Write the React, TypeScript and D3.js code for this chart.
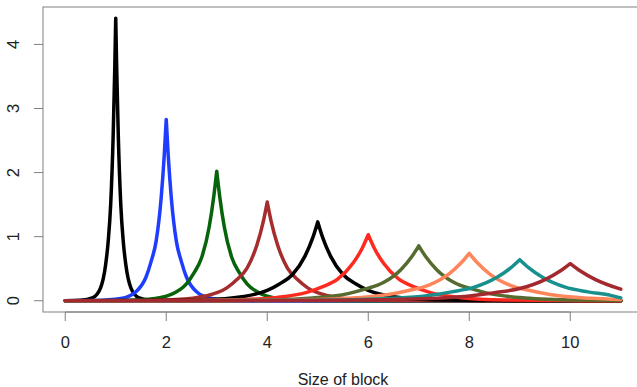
import React from "react";
import * as d3 from "d3";

// Peak positions (x) of each curve
const peakX = [1, 2, 3, 4, 5, 6, 7, 8, 9, 10];
// Relative offsets from the peak, as a fraction of the peak position
const offsets = [0, 0.02, 0.05, 0.1, 0.15, 0.2, 0.3, 0.45, 0.7, 1.0];
// Heights read at those offsets (same on both sides of the peak)
const curve1 = [4.41, 3.6, 2.6, 1.5, 0.92, 0.56, 0.2, 0.05, 0.006, 0];
const curve2 = [2.83, 2.26, 1.61, 0.93, 0.61, 0.37, 0.14, 0.034, 0.004, 0];
const curve3 = [2.02, 1.62, 1.15, 0.67, 0.434, 0.263, 0.1, 0.024, 0.003, 0];
const curve4 = [1.54, 1.23, 0.88, 0.51, 0.33, 0.2, 0.077, 0.018, 0.0023, 0];
const curve5 = [1.23, 0.98, 0.7, 0.41, 0.264, 0.16, 0.062, 0.015, 0.0018, 0];
const curve6 = [1.03, 0.82, 0.587, 0.34, 0.22, 0.134, 0.052, 0.012, 0.0015, 0];
const curve7 = [0.857, 0.686, 0.488, 0.283, 0.184, 0.111, 0.043, 0.01, 0.0013, 0];
const curve8 = [0.74, 0.592, 0.42, 0.244, 0.159, 0.096, 0.037, 0.009, 0.0011, 0];
const curve9 = [0.64, 0.512, 0.365, 0.211, 0.138, 0.083, 0.032, 0.0077, 0.001, 0];
const curve10 = [0.58, 0.464, 0.33, 0.19, 0.125, 0.075, 0.029, 0.007, 0.0009, 0];
const curves = [curve1, curve2, curve3, curve4, curve5, curve6, curve7, curve8, curve9, curve10];
// Height of each curve at the right end of the range (x = 11)
const rightEnd = [0, 0, 0, 0, 0, 0.001, 0.004, 0.018, 0.045, 0.18];
const xMax = 11;

const colors = [
  "#000000",
  "#1f3dff",
  "#07640a",
  "#a52d2d",
  "#000000",
  "#ff2a1f",
  "#556b2f",
  "#ff855a",
  "#17908e",
  "#a3292f",
];

const xTicks = [0, 2, 4, 6, 8, 10];
const yTicks = [0, 1, 2, 3, 4];
const xLabel = "Size of block";

const W = 637;
const H = 387;
const left = 43;
const right = 643;
const top = 7;
const bottom = 312;

export default function App() {
  const x = d3.scaleLinear().domain([-0.44, 11.44]).range([left, right]);
  const y = d3.scaleLinear().domain([-0.176, 4.584]).range([bottom, top]);
  const line = d3
    .line<[number, number]>()
    .x((d) => x(d[0]))
    .y((d) => y(d[1]))
    .curve(d3.curveMonotoneX);

  const paths = curves.map((vals, i) => {
    const k = peakX[i];
    const leftPts: [number, number][] = offsets
      .map((u, j) => [k - u * k, vals[j]] as [number, number])
      .reverse();
    const rightPts: [number, number][] = offsets
      .map((u, j) => [k + u * k, vals[j]] as [number, number])
      .filter((p) => p[0] < xMax - 1e-9);
    rightPts.push([xMax, rightEnd[i]]);
    const a = line(leftPts) || "";
    const b = (line(rightPts) || "").replace(/^M/, "L");
    return a + b;
  });

  const font = "'Liberation Sans', Arial, Helvetica, sans-serif";

  return (
    <svg
      width={W}
      height={H}
      style={{ position: "absolute", left: 0, top: 0, background: "#fff" }}
    >
      <defs>
        <clipPath id="plotclip">
          <rect x={left} y={top} width={right - left} height={bottom - top} />
        </clipPath>
      </defs>
      <g clipPath="url(#plotclip)">
        {paths.map((p, i) => (
          <path
            key={i}
            d={p}
            fill="none"
            stroke={colors[i]}
            strokeWidth={3.5}
            strokeLinejoin="round"
            strokeLinecap="round"
          />
        ))}
      </g>
      <rect
        x={left}
        y={top}
        width={right - left}
        height={bottom - top}
        fill="none"
        stroke="#808080"
        strokeWidth={1}
      />
      {/* x axis */}
      <line x1={x(0)} x2={x(10)} y1={bottom} y2={bottom} stroke="#808080" />
      {xTicks.map((t) => (
        <g key={t}>
          <line x1={x(t)} x2={x(t)} y1={bottom} y2={bottom + 9} stroke="#808080" />
          <text
            x={x(t)}
            y={348}
            textAnchor="middle"
            fontFamily={font}
            fontSize={16.5}
            fill="#222"
          >
            {t}
          </text>
        </g>
      ))}
      {/* y axis */}
      {yTicks.map((t) => (
        <g key={t}>
          <line x1={left} x2={left - 9} y1={y(t)} y2={y(t)} stroke="#808080" />
          <text
            transform={`translate(18.5,${y(t)}) rotate(-90)`}
            textAnchor="middle"
            fontFamily={font}
            fontSize={16.5}
            fill="#222"
          >
            {t}
          </text>
        </g>
      ))}
      <text
        x={(left + right) / 2}
        y={385}
        textAnchor="middle"
        fontFamily={font}
        fontSize={16}
        fill="#222"
      >
        {xLabel}
      </text>
    </svg>
  );
}
